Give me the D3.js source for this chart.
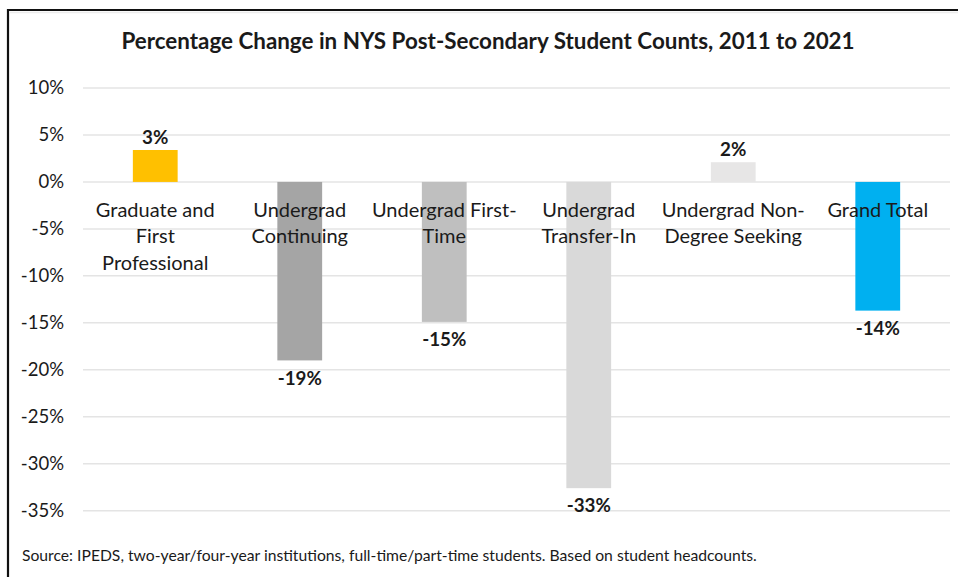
<!DOCTYPE html>
<html>
<head>
<meta charset="utf-8">
<script src="https://cdn.jsdelivr.net/npm/d3@7"></script>
<style>
  html, body { margin: 0; padding: 0; background: #fff; }
  svg { display: block; }
  text { font-family: Lato, "Open Sans", sans-serif; fill: #1a1a1a; }
</style>
</head>
<body>
<svg id="chart" width="958" height="577"></svg>
<script>
// Percentage change in student counts by enrollment group, 2011 to 2021
const categories = [
  "Graduate and First Professional",
  "Undergrad Continuing",
  "Undergrad First-Time",
  "Undergrad Transfer-In",
  "Undergrad Non-Degree Seeking",
  "Grand Total"
];
// wrapped lines for the category labels
const categoryLines = [
  ["Graduate and", "First", "Professional"],
  ["Undergrad", "Continuing"],
  ["Undergrad First-", "Time"],
  ["Undergrad", "Transfer-In"],
  ["Undergrad Non-", "Degree Seeking"],
  ["Grand Total"]
];
const values = [3.4, -19.0, -14.9, -32.6, 2.1, -13.7];
const barColors = ["#FFC000", "#A5A5A5", "#BFBFBF", "#D9D9D9", "#E7E6E6", "#00B0F0"];
const yTicks = [10, 5, 0, -5, -10, -15, -20, -25, -30, -35];

const title = "Percentage Change in NYS Post-Secondary Student Counts, 2011 to 2021";
const source = "Source: IPEDS, two-year/four-year institutions, full-time/part-time students. Based on student headcounts.";

const svg = d3.select("#chart");
const W = 958, H = 577;

// frame: top and left rules
svg.append("line").attr("x1", 8).attr("x2", W).attr("y1", 10).attr("y2", 10)
  .attr("stroke", "#111").attr("stroke-width", 2.2);
svg.append("line").attr("x1", 8).attr("x2", 8).attr("y1", 9).attr("y2", H)
  .attr("stroke", "#111").attr("stroke-width", 2.2);
svg.append("line").attr("x1", 9).attr("x2", W).attr("y1", 12.5).attr("y2", 12.5)
  .attr("stroke", "#ececec").attr("stroke-width", 1.5);

const plot = { left: 83, right: 950, top: 88, bottom: 510.7 };

const x = d3.scaleBand()
  .domain(categories)
  .range([plot.left, plot.right])
  .paddingInner(0.69)
  .paddingOuter(0.345);

const y = d3.scaleLinear()
  .domain([10, -35])
  .range([plot.top, plot.bottom]);

// gridlines
svg.append("g")
  .selectAll("line")
  .data(yTicks)
  .join("line")
  .attr("x1", plot.left).attr("x2", plot.right)
  .attr("y1", d => y(d)).attr("y2", d => y(d))
  .attr("stroke", "#e4e4e4").attr("stroke-width", 1.5);

// y axis labels
const yAxis = d3.axisLeft(y)
  .tickValues(yTicks)
  .tickFormat(d => d + "%")
  .tickSize(0)
  .tickPadding(0);
const yg = svg.append("g").attr("transform", "translate(64,0)").call(yAxis);
yg.select(".domain").remove();
yg.selectAll("text")
  .attr("font-family", "Lato, sans-serif")
  .attr("font-size", 18.5)
  .attr("fill", "#1a1a1a");

// bars
svg.append("g")
  .selectAll("rect")
  .data(values)
  .join("rect")
  .attr("x", (d, i) => x(categories[i]))
  .attr("width", x.bandwidth())
  .attr("y", d => y(Math.max(0, d)))
  .attr("height", d => Math.abs(y(d) - y(0)))
  .attr("fill", (d, i) => barColors[i]);

// category labels, just below the zero line
const labelG = svg.append("g");
categoryLines.forEach((lines, i) => {
  const cx = x(categories[i]) + x.bandwidth() / 2;
  const t = labelG.append("text")
    .attr("text-anchor", "middle")
    .attr("font-size", 20);
  lines.forEach((ln, j) => {
    t.append("tspan")
      .attr("x", cx)
      .attr("y", y(0) + 30 + j * 26.3)
      .attr("dominant-baseline", "middle")
      .text(ln);
  });
});

// value labels
svg.append("g")
  .selectAll("text")
  .data(values)
  .join("text")
  .attr("x", (d, i) => x(categories[i]) + x.bandwidth() / 2)
  .attr("y", d => d >= 0 ? y(d) - 11 : y(d) + 19.5)
  .attr("dominant-baseline", "middle")
  .attr("text-anchor", "middle")
  .attr("font-size", 18.8)
  .attr("font-weight", "bold")
  .text(d => Math.round(d) + "%");

// title
svg.append("text")
  .attr("x", 488).attr("y", 43)
  .attr("text-anchor", "middle")
  .attr("dominant-baseline", "middle")
  .attr("font-size", 22.4)
  .attr("font-weight", "bold")
  .text(title);

// source note
svg.append("text")
  .attr("x", 22).attr("y", 557)
  .attr("dominant-baseline", "middle")
  .attr("font-size", 15.7)
  .text(source);
</script>
</body>
</html>
